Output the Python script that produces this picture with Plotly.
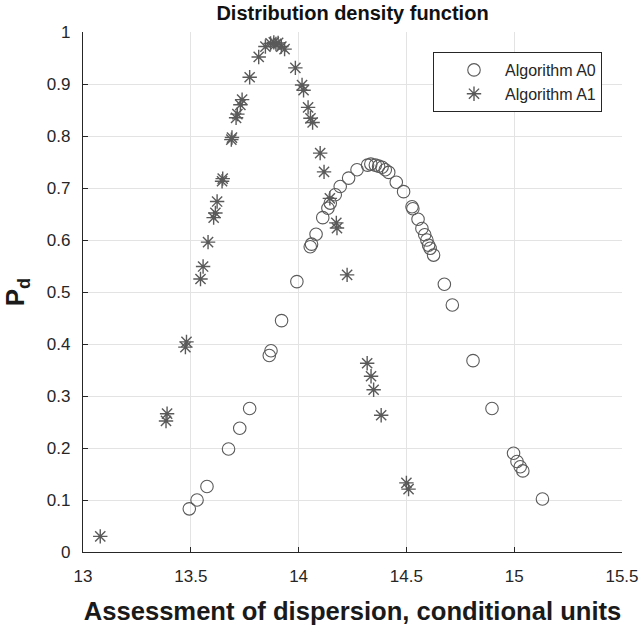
import plotly.graph_objects as go

# Algorithm A0 (circles)
a0_x = [13.493, 13.529, 13.575, 13.675, 13.727, 13.773, 13.864, 13.872, 13.921, 13.992,
        14.054, 14.060, 14.081, 14.112, 14.136, 14.147, 14.170, 14.193, 14.232, 14.271,
        14.320, 14.335, 14.356, 14.371, 14.387, 14.402, 14.418, 14.453, 14.487, 14.526,
        14.530, 14.554, 14.572, 14.585, 14.595, 14.603, 14.610, 14.626, 14.676, 14.713,
        14.809, 14.897, 14.997, 15.013, 15.028, 15.040, 15.131]
a0_y = [0.083, 0.100, 0.126, 0.198, 0.238, 0.276, 0.378, 0.387, 0.445, 0.520,
        0.587, 0.592, 0.611, 0.643, 0.661, 0.671, 0.687, 0.703, 0.719, 0.735,
        0.744, 0.746, 0.744, 0.742, 0.740, 0.735, 0.730, 0.711, 0.693, 0.664,
        0.660, 0.640, 0.622, 0.610, 0.600, 0.590, 0.584, 0.571, 0.515, 0.475,
        0.368, 0.276, 0.190, 0.174, 0.164, 0.156, 0.102]

# Algorithm A1 (asterisks)
a1_x = [13.080, 13.385, 13.390, 13.475, 13.480, 13.545, 13.557, 13.580, 13.606, 13.614,
        13.622, 13.645, 13.648, 13.688, 13.691, 13.710, 13.716, 13.730, 13.738, 13.773,
        13.815, 13.846, 13.870, 13.885, 13.895, 13.905, 13.920, 13.935, 13.985, 14.016,
        14.023, 14.044, 14.055, 14.065, 14.100, 14.118, 14.145, 14.175, 14.178, 14.225,
        14.318, 14.336, 14.348, 14.383, 14.500, 14.510]
a1_y = [0.030, 0.252, 0.266, 0.394, 0.404, 0.525, 0.549, 0.596, 0.643, 0.652,
        0.674, 0.713, 0.718, 0.793, 0.797, 0.835, 0.842, 0.860, 0.870, 0.913,
        0.952, 0.972, 0.978, 0.980, 0.977, 0.979, 0.972, 0.967, 0.931, 0.898,
        0.888, 0.855, 0.834, 0.826, 0.767, 0.731, 0.680, 0.633, 0.623, 0.533,
        0.363, 0.338, 0.312, 0.263, 0.133, 0.121]

x_ticks = [13, 13.5, 14, 14.5, 15, 15.5]
x_tick_labels = ["13", "13.5", "14", "14.5", "15", "15.5"]
y_ticks = [0, 0.1, 0.2, 0.3, 0.4, 0.5, 0.6, 0.7, 0.8, 0.9, 1]
y_tick_labels = ["0", "0.1", "0.2", "0.3", "0.4", "0.5", "0.6", "0.7", "0.8", "0.9", "1"]

FONT = "Liberation Sans, Arial, sans-serif"
MARK = "#5a5a5a"
AX = "#262626"

fig = go.Figure()
fig.add_trace(go.Scatter(
    x=a0_x, y=a0_y, mode="markers", name="Algorithm A0",
    marker=dict(symbol="circle-open", size=12.5, color=MARK, line=dict(width=1.1, color=MARK)),
))
fig.add_trace(go.Scatter(
    x=a1_x, y=a1_y, mode="markers", name="Algorithm A1",
    marker=dict(symbol="asterisk-open", size=12, color=MARK, line=dict(width=1.4, color=MARK)),
))

fig.update_layout(
    width=639, height=630,
    margin=dict(l=83, r=17, t=32, b=78, autoexpand=False),
    paper_bgcolor="white", plot_bgcolor="white",
    font=dict(family=FONT, color=AX),
    title=dict(text="<b>Distribution density function</b>", font=dict(size=20, color="#111111", family=FONT),
               x=(83 + 622) / 2 / 639, xanchor="center", xref="container",
               y=1 - 13 / 630, yanchor="middle", yref="container"),
    legend=dict(
        x=(433 - 83) / 539, xanchor="left", y=0.9615, yanchor="top",
        bordercolor=AX, borderwidth=1, bgcolor="white",
        font=dict(size=16, family=FONT, color=AX),
        indentation=9, itemwidth=52,
    ),
    showlegend=True,
)

fig.update_xaxes(
    range=[13, 15.5], tickvals=x_ticks, ticktext=x_tick_labels,
    showgrid=True, gridcolor="#e3e3e3", gridwidth=1, zeroline=False,
    showline=True, linecolor=AX, linewidth=1.3,
    ticks="inside", ticklen=5, tickcolor=AX, ticklabelstandoff=8,
    tickfont=dict(size=17, family=FONT, color=AX),
    title=dict(text="<b>Assessment of dispersion, conditional units</b>",
               font=dict(size=25.6, family=FONT, color="#1a1a1a"), standoff=17),
)
fig.update_yaxes(
    range=[0, 1], tickvals=y_ticks, ticktext=y_tick_labels,
    showgrid=True, gridcolor="#e3e3e3", gridwidth=1, zeroline=False,
    showline=True, linecolor=AX, linewidth=1.3,
    ticks="inside", ticklen=5, tickcolor=AX, ticklabelstandoff=8,
    tickfont=dict(size=17, family=FONT, color=AX),
    title=dict(text="<b>P<sub>d</sub></b>",
               font=dict(size=26, family=FONT, color="#1a1a1a"), standoff=14),
)

fig.write_html("out.html")
